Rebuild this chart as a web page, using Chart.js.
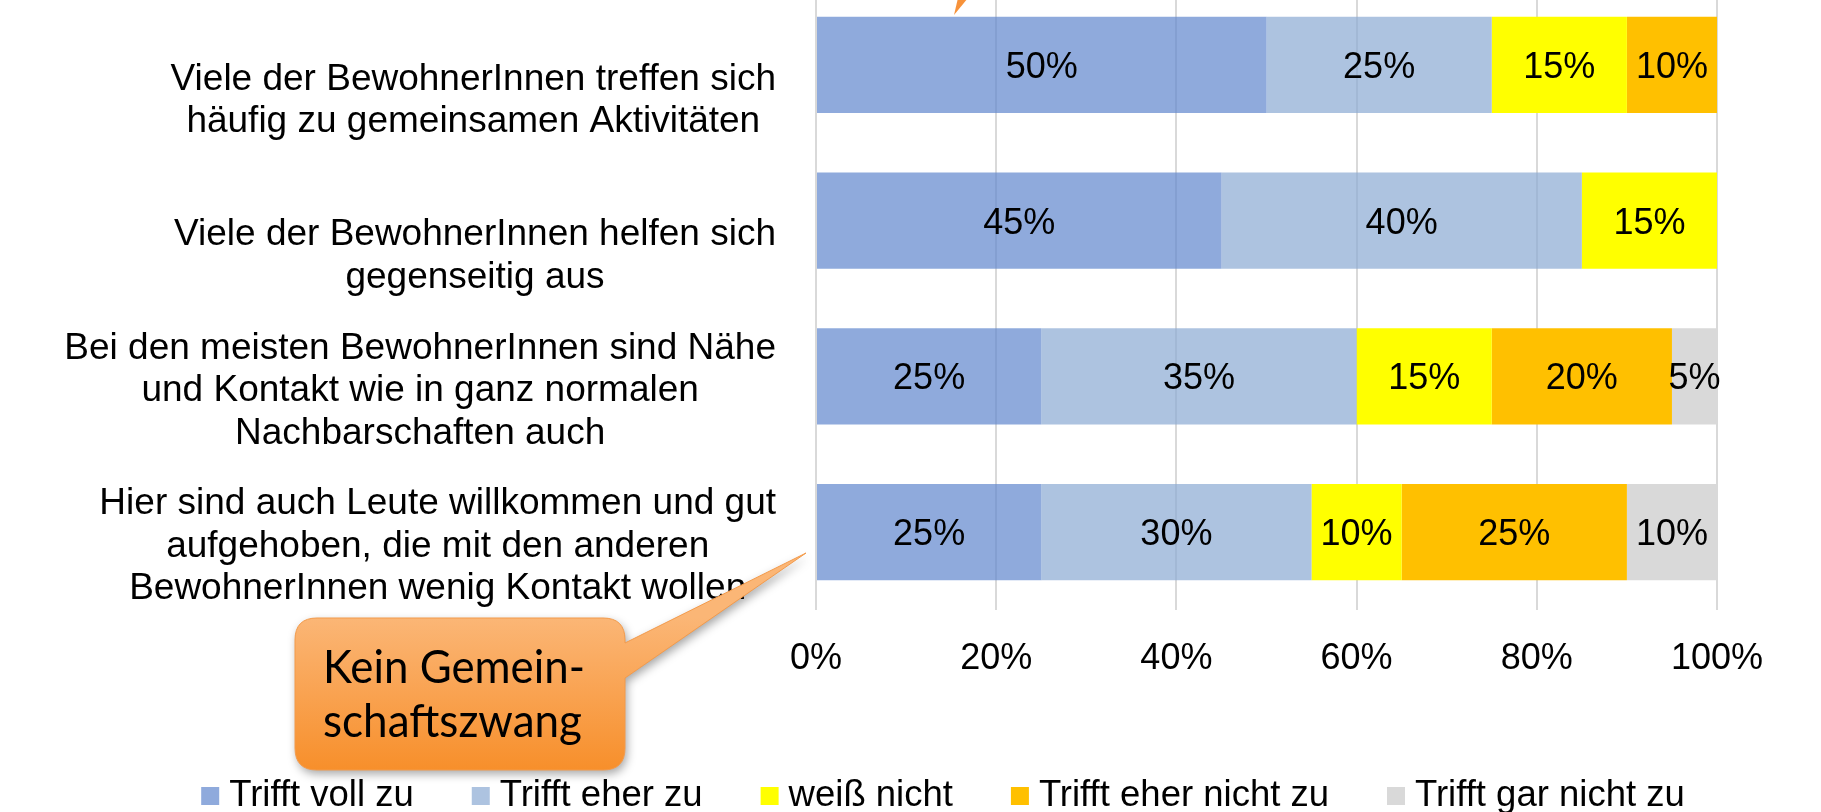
<!DOCTYPE html>
<html><head><meta charset="utf-8">
<script src="https://cdn.jsdelivr.net/npm/chart.js@4/dist/chart.umd.min.js"></script>
<style>
html,body{margin:0;padding:0;width:1821px;height:812px;overflow:hidden;background:#fff;}
#c{position:absolute;left:0;top:-40px;}
</style></head><body>
<canvas id="c" width="1821" height="863"></canvas>
<script>
// ---- data ----
const categories = [
  ["Viele der BewohnerInnen treffen sich", "häufig zu gemeinsamen Aktivitäten"],
  ["Viele der BewohnerInnen helfen sich", "gegenseitig aus"],
  ["Bei den meisten BewohnerInnen sind Nähe", "und Kontakt wie in ganz normalen", "Nachbarschaften auch"],
  ["Hier sind auch Leute willkommen und gut", "aufgehoben, die mit den anderen", "BewohnerInnen wenig Kontakt wollen"]
];
const seriesNames = ["Trifft voll zu", "Trifft eher zu", "weiß nicht", "Trifft eher nicht zu", "Trifft gar nicht zu"];
const trifftVollZu      = [50, 45, 25, 25];
const trifftEherZu      = [25, 40, 35, 30];
const weissNicht        = [15, 15, 15, 10];
const trifftEherNichtZu = [10,  0, 20, 25];
const trifftGarNichtZu  = [ 0,  0,  5, 10];
const xTicks = [0, 20, 40, 60, 80, 100];
const calloutLines = ["Kein Gemein-", "schaftszwang"];

// ---- styles ----
const FAM = '"Liberation Sans", Arial, sans-serif';
const seriesColors = ['rgba(97,135,205,0.71)', 'rgba(139,170,211,0.71)', '#FFFF00', '#FFC000', '#D9D9D9'];
const seriesValues = [trifftVollZu, trifftEherZu, weissNicht, trifftEherNichtZu, trifftGarNichtZu];
const OY = 40; // canvas is shifted up by 40px

const catLabels = {
  id: 'catLabels',
  afterDraw(chart) {
    const ctx = chart.ctx, ys = chart.scales.y, area = chart.chartArea;
    ctx.save();
    ctx.font = '37px ' + FAM;
    ctx.fillStyle = '#000';
    ctx.textAlign = 'center';
    ctx.textBaseline = 'middle';
    categories.forEach((lines, i) => {
      const cy = ys.getPixelForValue(i);
      const w = Math.max(...lines.map(l => ctx.measureText(l).width));
      const right = area.left - 40;
      const cx = right - w / 2;
      const n = lines.length;
      lines.forEach((l, j) => ctx.fillText(l, cx, cy + 57 - (n - 1 - j) * 42.5));
    });
    ctx.restore();
  }
};

const valueLabels = {
  id: 'valueLabels',
  afterDatasetsDraw(chart) {
    const ctx = chart.ctx;
    ctx.save();
    ctx.font = '36px ' + FAM;
    ctx.fillStyle = '#000';
    ctx.textAlign = 'center';
    ctx.textBaseline = 'middle';
    chart.data.datasets.forEach((ds, di) => {
      const meta = chart.getDatasetMeta(di);
      meta.data.forEach((el, i) => {
        const v = ds.data[i];
        if (!v) return;
        ctx.fillText(v + '%', (el.x + el.base) / 2, el.y + 3);
      });
    });
    ctx.restore();
  }
};

const customLegend = {
  id: 'customLegend',
  afterDraw(chart) {
    const ctx = chart.ctx;
    ctx.save();
    ctx.font = '36.5px ' + FAM;
    ctx.textAlign = 'left';
    ctx.textBaseline = 'middle';
    const items = chart.data.datasets.map(ds => ({ text: ds.label, color: ds.backgroundColor }));
    const G = 58;
    const widths = items.map(it => 28 + ctx.measureText(it.text).width);
    const total = widths.reduce((a, b) => a + b, 0) + G * (items.length - 1);
    let x = 943 - total / 2;
    const y = 796 + OY;
    items.forEach((it, i) => {
      ctx.fillStyle = '#fff';
      ctx.fillRect(x, y - 9, 18, 18);
      ctx.fillStyle = it.color;
      ctx.fillRect(x, y - 9, 18, 18);
      ctx.fillStyle = '#000';
      ctx.fillText(it.text, x + 28, y);
      x += widths[i] + G;
    });
    ctx.restore();
  }
};

const callout = {
  id: 'callout',
  afterDraw(chart) {
    const ctx = chart.ctx;
    const oy = OY;
    const L = 295, R = 625, T = 618 + oy, B = 770 + oy, r = 22;
    const p1 = 643 + oy, p2 = 678 + oy, tipX = 806, tipY = 553 + oy;
    ctx.save();
    ctx.beginPath();
    ctx.moveTo(L + r, T);
    ctx.lineTo(R - r, T);
    ctx.quadraticCurveTo(R, T, R, T + r);
    ctx.lineTo(R, p1);
    ctx.lineTo(tipX, tipY);
    ctx.lineTo(R, p2);
    ctx.lineTo(R, B - r);
    ctx.quadraticCurveTo(R, B, R - r, B);
    ctx.lineTo(L + r, B);
    ctx.quadraticCurveTo(L, B, L, B - r);
    ctx.lineTo(L, T + r);
    ctx.quadraticCurveTo(L, T, L + r, T);
    ctx.closePath();
    const g = ctx.createLinearGradient(0, T, 0, B);
    g.addColorStop(0, '#FBB676');
    g.addColorStop(1, '#F78F2B');
    ctx.fillStyle = g;
    ctx.shadowColor = 'rgba(0,0,0,0.35)';
    ctx.shadowBlur = 10;
    ctx.shadowOffsetX = 2;
    ctx.shadowOffsetY = 4;
    ctx.fill();
    ctx.shadowColor = 'transparent';
    ctx.strokeStyle = '#F39A4A';
    ctx.lineWidth = 1;
    ctx.stroke();
    // text
    ctx.fillStyle = '#000';
    ctx.textBaseline = 'alphabetic';
    ctx.textAlign = 'left';
    ctx.font = '46px Lato, "Open Sans", sans-serif';
    const base = [683 + oy, 737 + oy];
    calloutLines.forEach((t, i) => {
      const w = ctx.measureText(t).width;
      const target = i === 0 ? 262 : 259;
      ctx.save();
      ctx.translate(323, base[i]);
      ctx.scale(target / w, 1);
      ctx.fillText(t, 0, 0);
      ctx.restore();
    });
    // tip of another callout at the top
    ctx.beginPath();
    ctx.moveTo(954, 15 + oy);
    ctx.lineTo(958, -2 + oy);
    ctx.lineTo(968, -2 + oy);
    ctx.closePath();
    ctx.fillStyle = '#F7923A';
    ctx.fill();
    ctx.restore();
  }
};

new Chart(document.getElementById('c'), {
  type: 'bar',
  data: {
    labels: categories,
    datasets: seriesNames.map((name, i) => ({
      label: name,
      data: seriesValues[i],
      backgroundColor: seriesColors[i],
      borderWidth: 0,
      barPercentage: 1,
      categoryPercentage: 0.617
    }))
  },
  options: {
    responsive: false,
    animation: false,
    devicePixelRatio: 1,
    indexAxis: 'y',
    layout: { padding: { left: 169, right: 104, top: 27, bottom: 0 } },
    plugins: {
      legend: { display: false },
      tooltip: { enabled: false }
    },
    scales: {
      x: {
        stacked: true, min: 0, max: 100,
        afterBuildTicks: s => { s.ticks = xTicks.map(v => ({ value: v })); },
        ticks: { callback: v => v + '%', font: { size: 36, family: FAM }, color: '#000', padding: 27, maxRotation: 0 },
        grid: { color: '#D9D9D9', lineWidth: 2, drawTicks: false },
        border: { display: false },
        afterFit: s => { s.height = 863 - 650; }
      },
      y: {
        stacked: true,
        ticks: { display: false },
        grid: { display: false },
        border: { display: false },
        afterFit: s => { s.width = 647; }
      }
    }
  },
  plugins: [catLabels, valueLabels, customLegend, callout]
});
</script>
</body></html>
